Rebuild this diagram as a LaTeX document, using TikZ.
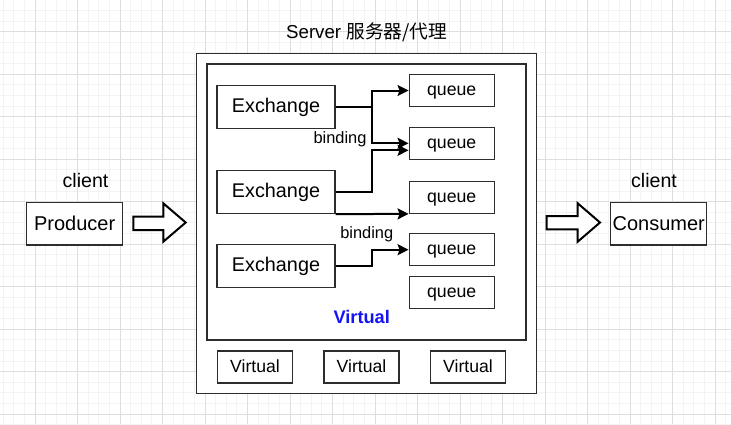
\documentclass[tikz,border=0pt]{standalone}
\usepackage{fontspec}
\setmainfont{Liberation Sans}
\newfontfamily\cjk{Noto Sans CJK SC}
\usepackage{xcolor}
\usetikzlibrary{arrows.meta,positioning}

\definecolor{gridminor}{RGB}{243,243,243}
\definecolor{gridmajor}{RGB}{222,222,222}
\definecolor{boxline}{RGB}{45,45,45}
\definecolor{vhostblue}{RGB}{20,20,245}

\begin{document}
\begin{tikzpicture}[
        x=1pt, y=-1pt,
        box/.style={
            draw=boxline,
            line width=1.3pt,
            fill=white,
            inner sep=0pt,
            align=center
        },
        exbox/.style={box, minimum width=118pt, minimum height=43pt, text height=14.9pt, text depth=4.2pt, font=\fontsize{19.8}{22}\selectfont},
        qbox/.style={box, minimum width=85pt, minimum height=32pt, text height=13.3pt, text depth=3.7pt, font=\fontsize{17.7}{20}\selectfont},
        vbox/.style={box, minimum width=75pt, minimum height=32pt, text height=14pt, text depth=2.8pt, font=\fontsize{17.6}{20}\selectfont},
        clientbox/.style={box, minimum width=96pt, minimum height=42.5pt, text height=16pt, text depth=3pt, font=\fontsize{20}{22}\selectfont},
        label/.style={inner sep=0pt, text height=14.7pt, text depth=4.1pt, font=\fontsize{19.6}{22}\selectfont},
        bindlabel/.style={inner sep=0pt, text height=12.3pt, text depth=3.4pt, font=\fontsize{16.4}{18}\selectfont},
        link/.style={-{Stealth[length=11pt,width=11pt,inset=2pt]}, line width=2pt},
        blockarrow/.style={draw=black, line width=2pt, fill=white, line join=miter}
    ]
        \useasboundingbox (0,0) rectangle (731,424);
        \fill[white] (0,0) rectangle (731,424);

        % background grid
        \foreach \i in {0,...,68}
            \draw[gridminor, line width=1pt] (3.125+\i*10.625,0) -- ++(0,424);
        \foreach \i in {1,...,40}
            \draw[gridminor, line width=1pt] (0,-0.175+\i*10.625) -- ++(731,0);
        \foreach \i in {0,...,16}
            \draw[gridmajor, line width=1pt] (35+\i*42.5,0) -- ++(0,424);
        \foreach \i in {0,...,9}
            \draw[gridmajor, line width=1pt] (0,31.7+\i*42.5) -- ++(731,0);

        % server and virtual host
        \node[box, minimum width=340pt, minimum height=340pt] (server) at (366.5,223.5) {};
        \node[label, text height=14pt, text depth=3.9pt, font=\fontsize{18.7}{21}\selectfont] (servertitle) at (366.7,33) {Server {\cjk 服务器/代理}};
        \node[box, minimum width=319pt, minimum height=276pt] (vhost) at (366.5,202) {};
        \node[label, text=vhostblue, text height=13.7pt, text depth=3.8pt, font=\fontsize{18.2}{20}\selectfont\bfseries] (vhostname) at (361.7,319) {Virtual};

        \node[exbox] (ex1) at (276,106.7) {Exchange};
        \node[exbox] (ex2) at (276,192) {Exchange};
        \node[exbox] (ex3) at (276,266) {Exchange};

        \node[qbox] (q1) at (451.7,90.5) {queue};
        \node[qbox] (q2) at (451.7,143.8) {queue};
        \node[qbox] (q3) at (451.7,197.2) {queue};
        \node[qbox] (q4) at (451.7,249.7) {queue};
        \node[qbox] (q5) at (451.7,292.7) {queue};

        \node[vbox] (vh1) at (255,367) {Virtual};
        \node[vbox] (vh2) at (361.5,367) {Virtual};
        \node[vbox] (vh3) at (468,367) {Virtual};

        % bindings
        \draw[link] (ex1.east) -- ++(36,0) |- (q1.west);
        \draw[link] (ex1.east) -- ++(36,0) |- ([yshift=0.5pt]q2.west);
        \draw[link] (ex2.east) -- ++(36,0) |- ([yshift=-6.5pt]q2.west);
        \draw[link] (ex2.south east) -- (q3.south west);
        \draw[link] (ex3.east) -- ++(36.5,0) |- (q4.west);
        \node[bindlabel] (bind1) at (340,139.3) {binding};
        \node[bindlabel] (bind2) at (366.7,234.3) {binding};

        % clients
        \node[clientbox] (producer) at (74.7,223.7) {Producer};
        \node[label] (prodclient) at (85.5,181.7) {client};
        \node[clientbox] (consumer) at (658.7,223.7) {Consumer};
        \node[label] (consclient) at (654,181.7) {client};

        \draw[blockarrow] (133.3,216.7) -- (163.3,216.7) -- (163.3,203.3) -- (185.7,222.5)
            -- (163.3,241.7) -- (163.3,230) -- (133.3,230) -- cycle;
        \draw[blockarrow] (546.7,216) -- (577.7,216) -- (577.7,203.3) -- (600,222.5)
            -- (577.7,241.7) -- (577.7,229.3) -- (546.7,229.3) -- cycle;
    \end{tikzpicture}
\end{document}
